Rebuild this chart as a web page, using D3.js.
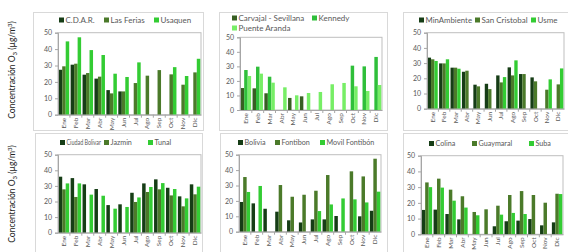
<!DOCTYPE html>
<html lang="es">
<head>
<meta charset="UTF-8">
<title>Concentración O3</title>
<script src="https://cdn.jsdelivr.net/npm/d3@7"></script>
<style>
  body { margin: 0; background: #fff; }
  text { font-family: Lato, "Open Sans", sans-serif; }
</style>
</head>
<body>
<script>
    // meses y ticks
    var months = ["Ene", "Feb", "Mar", "Abr", "May", "Jun", "Jul", "Ago", "Sep", "Oct", "Nov", "Dic"];
    var yTicks = [0, 10, 20, 30, 40, 50];

    // panel 1
    var cdar      = [27.4, 30.5, 24.4, 22, 15, 14.2, null, null, null, null, null, null];
    var lasFerias = [29.5, 31.1, 25.4, 23.2, 13, 14.2, 19.3, 23.8, 27.2, 24.6, 18.3, 25.8];
    var usaquen   = [44.7, 47.2, 39.4, 36.4, 25, 23, 31.9, null, null, 29, 23.6, 34.1];
    // panel 2
    var carvajal  = [15.1, 14.9, 11.5, null, 8.3, 9.4, null, null, null, null, null, null];
    var kennedy   = [27.5, 29.8, 22.9, null, null, null, null, null, null, 30.5, 30, 36.5];
    var puenteAr  = [23.4, 25, 18.8, 15.6, 10.1, 11.7, 12.4, 17.7, 18.6, 16.3, 13.1, 17.2];
    // panel 3
    var minAmb    = [33.6, 29.8, 27, 24.3, 15.8, 16.4, 21.9, 27.2, 22.8, 20.6, null, null];
    var sanCrist  = [32.5, 29.8, 27, 25, 14.7, 12.9, 17.3, 21.9, 22.8, 18, 12.5, 16];
    var usme      = [31.4, 32.5, 26.3, null, null, null, 20.8, 31.8, null, null, 19.3, 26.5];
    // panel 4
    var ciudadBol = [35.9, 35, 31, 28, 17.7, 18.2, 25.6, 31.6, 34.2, 28.8, 23.3, 31];
    var jazmin    = [27.8, 22.9, null, null, null, null, 19.7, 26.1, 27.8, 23.9, 16.9, 24.6];
    var tunal     = [31.6, 31.6, 24.4, 23.7, 15.4, 16.5, 22.6, 29.3, 31.8, 28, 22, 29.5];
    // panel 5
    var bolivia   = [19.3, 18.4, 14.9, 13, 7.4, 6, 8, 8, 10.2, null, 10, 13.6];
    var fontibon  = [35.5, null, null, 30.3, 22.7, 24, 26.6, 36.8, null, 39.2, 35.9, 47.4];
    var movilFont = [25.8, 29.7, null, null, null, null, 13.4, 17.7, 21.6, 21, 19, 26];
    // panel 6
    var colina    = [15.5, 15.7, 12.9, 9.5, null, null, 5.1, 8.3, 8.7, 9.7, 5.7, 7.6];
    var guaymaral = [33, 35.4, 28.4, 24.2, 14.2, 15.9, 18.2, 25, 27.5, 25, 20.1, 25.8];
    var suba      = [30, 29.7, 21.4, 17, 12.1, null, 12.5, 13.6, 12.9, null, null, 25.6];

    var dark = "#163d16", mid = "#4b7a2a", bright = "#33cc33", light = "#77ee66";

    var panels = [
        {names: ["C.D.A.R.", "Las Ferias", "Usaquen"], values: [cdar, lasFerias, usaquen], colors: [dark, mid, bright]},
        {names: ["Carvajal - Sevillana", "Kennedy", "Puente Aranda"], values: [carvajal, kennedy, puenteAr], colors: ["#375f22", "#2fbf3a", light]},
        {names: ["MinAmbiente", "San Cristobal", "Usme"], values: [minAmb, sanCrist, usme], colors: [dark, mid, bright]},
        {names: ["Ciudad Bolivar", "Jazmin", "Tunal"], values: [ciudadBol, jazmin, tunal], colors: [dark, mid, bright]},
        {names: ["Bolivia", "Fontibon", "Movil Fontibón"], values: [bolivia, fontibon, movilFont], colors: [dark, mid, bright]},
        {names: ["Colina", "Guaymaral", "Suba"], values: [colina, guaymaral, suba], colors: [dark, mid, bright]}
    ];

    // cajas: marco, area de grafico, leyenda
    var layout = [
        {frame: [33, 12, 170, 118], plot: [58, 32.7, 201, 114.7], legend: [[59, 20], [104, 20], [154, 20]], fs: 8},
        {frame: [219, 12, 168, 118], plot: [240, 37.3, 382, 110], legend: [[232, 18], [312, 18], [232, 28]], fs: 8},
        {frame: [403, 12, 170, 118], plot: [427, 32.7, 564, 108.7], legend: [[419, 20], [475, 20], [531, 20]], fs: 8},
        {frame: [35, 133, 167, 125], plot: [58, 154.7, 201, 232.7], legend: [[60, 142.5], [104, 142.5], [148, 142.5]], fs: 7.2},
        {frame: [220, 133, 167, 125], plot: [239, 154.7, 381, 231.7], legend: [[238, 142.5], [275, 142.5], [320, 142.5]], fs: 7.2},
        {frame: [403, 133, 170, 125], plot: [421, 155.7, 563, 234.3], legend: [[429, 143.5], [472, 143.5], [529, 143.5]], fs: 7.2}
    ];

    var svg = d3.select("body").append("svg").attr("width", 568).attr("height", 252);

    panels.forEach(function (p, i) {
        var L = layout[i];
        var g = svg.append("g");
        g.append("rect").attr("x", L.frame[0] + 0.5).attr("y", L.frame[1] + 0.5)
            .attr("width", L.frame[2]).attr("height", L.frame[3])
            .attr("fill", "#fff").attr("stroke", "#d9d9d9");

        var x0 = d3.scaleBand().domain(months).range([L.plot[0], L.plot[2]]).paddingInner(0.12).paddingOuter(0.06);
        var x1 = d3.scaleBand().domain([0, 1, 2]).range([0, x0.bandwidth()]);
        var y = d3.scaleLinear().domain([0, 50]).range([L.plot[3], L.plot[1]]);

        g.append("rect").attr("x", L.plot[0]).attr("y", L.plot[1])
            .attr("width", L.plot[2] - L.plot[0]).attr("height", L.plot[3] - L.plot[1])
            .attr("fill", "none").attr("stroke", "#bfbfbf").attr("stroke-width", 1);

        p.values.forEach(function (vals, s) {
            g.selectAll(null).data(months.map(function (m, k) { return {m: m, v: vals[k]}; })
                .filter(function (d) { return d.v != null; }))
                .enter().append("rect")
                .attr("x", function (d) { return x0(d.m) + x1(s); })
                .attr("y", function (d) { return y(d.v); })
                .attr("width", x1.bandwidth())
                .attr("height", function (d) { return y(0) - y(d.v); })
                .attr("fill", p.colors[s]);
        });

        var ya = d3.axisLeft(y).tickValues(yTicks).tickSize(3).tickPadding(3);
        var yg = g.append("g").attr("transform", "translate(" + L.plot[0] + ",0)").call(ya);
        yg.select(".domain").attr("stroke", "#a6a6a6");
        yg.selectAll(".tick line").attr("stroke", "#a6a6a6");
        yg.selectAll("text").attr("fill", "#595959").style("font-size", "7px");

        var xa = d3.axisBottom(x0).tickSize(0).tickPadding(3);
        var xg = g.append("g").attr("transform", "translate(0," + L.plot[3] + ")").call(xa);
        xg.select(".domain").attr("stroke", "#a6a6a6");
        xg.selectAll("text").attr("fill", "#595959").style("font-size", "6.5px")
            .attr("text-anchor", "end").attr("dy", "0.32em")
            .attr("transform", "translate(0,3) rotate(-90)").attr("x", 0).attr("y", 0);
        // separadores entre meses
        xg.selectAll(null).data(months.slice(1)).enter().append("line")
            .attr("x1", function (m) { return x0(m) - x0.step() * x0.paddingInner() / 2; })
            .attr("x2", function (m) { return x0(m) - x0.step() * x0.paddingInner() / 2; })
            .attr("y1", 0).attr("y2", 3).attr("stroke", "#a6a6a6");

        p.names.forEach(function (n, s) {
            var pos = L.legend[s];
            g.append("rect").attr("x", pos[0]).attr("y", pos[1] - 2.5).attr("width", 5).attr("height", 5)
                .attr("fill", p.colors[s]);
            var t = g.append("text").attr("x", pos[0] + 6.5).attr("y", pos[1]).attr("dy", "0.35em")
                .attr("fill", "#595959").style("font-size", L.fs + "px").text(n);
            // si no cabe antes del siguiente elemento, se comprime
            var next = L.legend[s + 1];
            var room = (next && next[1] === pos[1] ? next[0] : L.frame[0] + L.frame[2]) - (pos[0] + 6.5) - 3;
            if (t.node().getComputedTextLength() > room) {
                t.attr("textLength", room).attr("lengthAdjust", "spacingAndGlyphs");
            }
        });
    });

    // titulos del eje y
    [70, 194].forEach(function (cy) {
        var t = svg.append("text").attr("transform", "translate(15," + cy + ") rotate(-90)")
            .attr("text-anchor", "middle").attr("fill", "#222").style("font-size", "8.5px");
        t.append("tspan").text("Concentración O");
        t.append("tspan").attr("dy", 2).style("font-size", "6px").text("3");
        t.append("tspan").attr("dy", -2).text(" (µg/m");
        t.append("tspan").attr("dy", -3).style("font-size", "6px").text("3");
        t.append("tspan").attr("dy", 3).text(")");
    });
</script>
</body>
</html>
